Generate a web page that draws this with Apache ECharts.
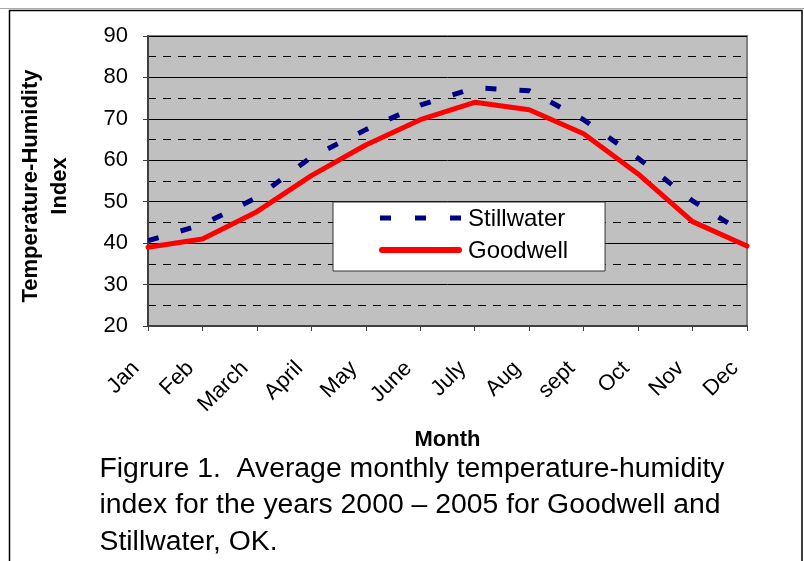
<!DOCTYPE html>
<html>
<head>
<meta charset="utf-8">
<script src="https://cdn.jsdelivr.net/npm/echarts@6/dist/echarts.min.js"></script>
<style>
html,body{margin:0;padding:0;background:#fff;}
#chart{width:804px;height:561px;}
</style>
</head>
<body>
<div id="chart"></div>
<script>
var categories = ['Jan','Feb','March','April','May','June','July','Aug','sept','Oct','Nov','Dec'];
var stillwater = [40.6, 44.5, 51, 60.8, 67.4, 73.3, 77.5, 76.8, 69.8, 60.5, 50.2, 42];
var goodwell = [39, 41, 47.6, 56.3, 63.7, 69.8, 74, 72.2, 66.4, 56.7, 45.2, 39.3];
var yMin = 20, yMax = 90, yStep = 10;
var captionLines = ['Figrure 1.  Average monthly temperature-humidity',
                    'index for the years 2000 \u2013 2005 for Goodwell and',
                    'Stillwater, OK.'];

var FONT = '"Liberation Sans", Arial, Helvetica, sans-serif';
var chart = echarts.init(document.getElementById('chart'), null, {renderer:'canvas'});

var graphics = [
  {type:'line', shape:{x1:0,y1:8.5,x2:804,y2:8.5}, style:{stroke:'#aaaaaa', lineWidth:1}, silent:true},
  {type:'rect', shape:{x:9.5,y:10.5,width:792.5,height:560}, style:{fill:null, stroke:'#000', lineWidth:1.5}, silent:true},
  {type:'text', x:45, y:186, rotation:Math.PI/2,
   style:{text:'Temperature-Humidity\nIndex', font:'bold 22px ' + FONT, fill:'#000',
          textAlign:'center', textVerticalAlign:'middle', lineHeight:29}},
  // legend key samples
  {type:'line', z:200, shape:{x1:380,y1:218,x2:461,y2:218},
   style:{stroke:'#000080', lineWidth:5, lineDash:[11,24], lineCap:'butt'}, silent:true},
  {type:'line', z:200, shape:{x1:382,y1:250,x2:459,y2:250},
   style:{stroke:'#FF0000', lineWidth:6, lineCap:'round'}, silent:true}
];
captionLines.forEach(function(t, i){
  graphics.push({type:'text', x:99.5, y:456 + i*36.5, scaleX:1.05,
    style:{text:t, font:'27px ' + FONT, fill:'#000', textAlign:'left', textVerticalAlign:'top'}});
});

chart.setOption({
  animation:false,
  backgroundColor:'#fff',
  textStyle:{fontFamily:FONT},
  grid:{left:148, right:57, top:36, bottom:235, show:true, backgroundColor:'#C0C0C0',
        borderColor:'#808080', borderWidth:2},
  legend:{
    orient:'vertical', left:333, top:202,
    backgroundColor:'#fff', borderColor:'#333', borderWidth:1,
    padding:[5,37,8,47], itemGap:8, itemWidth:81, itemHeight:14,
    itemStyle:{opacity:0},
    lineStyle:{opacity:0},
    textStyle:{fontSize:24, color:'#000', fontFamily:FONT, padding:[0,0,0,1]},
    data:['Stillwater','Goodwell']
  },
  xAxis:{
    type:'category', data:categories, boundaryGap:false,
    name:'Month', nameLocation:'middle', nameGap:103,
    nameTextStyle:{fontSize:22, fontWeight:'bold', color:'#000', fontFamily:FONT},
    axisLine:{lineStyle:{color:'#404040', width:2}},
    axisTick:{length:5, lineStyle:{color:'#404040', width:1}},
    axisLabel:{rotate:45, fontSize:22, color:'#000', margin:27, padding:[0,17,0,0], interval:0, fontFamily:FONT},
    splitLine:{show:false}
  },
  yAxis:{
    type:'value', min:yMin, max:yMax, interval:yStep,
    axisLine:{show:true, lineStyle:{color:'#404040', width:2}},
    axisTick:{show:true, length:5, lineStyle:{color:'#404040', width:1}},
    axisLabel:{fontSize:22, color:'#000', margin:20, fontFamily:FONT},
    splitLine:{show:true, lineStyle:{color:'#000', width:1}},
    minorTick:{show:false, splitNumber:2},
    minorSplitLine:{show:true, lineStyle:{color:'#000', width:1, type:[8,7]}}
  },
  series:[
    {name:'Stillwater', type:'line', data:stillwater, showSymbol:false, symbol:'none',
     lineStyle:{color:'#000080', width:5, type:[11,23], cap:'butt'},
     itemStyle:{color:'#000080'}, z:3},
    {name:'Goodwell', type:'line', data:goodwell, showSymbol:false, symbol:'none',
     lineStyle:{color:'#FF0000', width:5, cap:'round', join:'round'},
     itemStyle:{color:'#FF0000'}, z:4}
  ],
  graphic:graphics
});
</script>
</body>
</html>
